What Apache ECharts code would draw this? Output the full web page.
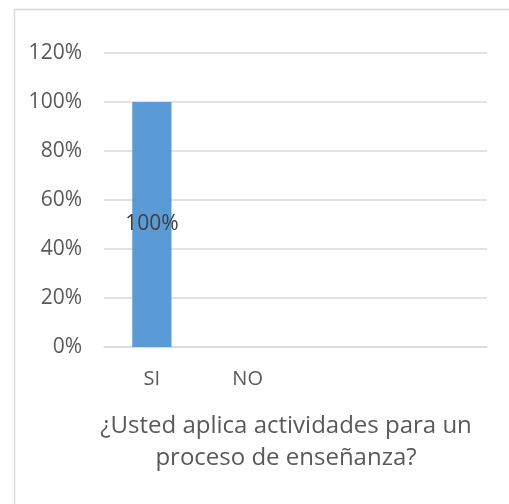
<!DOCTYPE html>
<html>
<head>
<meta charset="utf-8">
<script src="https://cdn.jsdelivr.net/npm/echarts@6/dist/echarts.min.js"></script>
<style>html,body{margin:0;padding:0;background:#fff;}#c{width:509px;height:504px;}</style>
</head>
<body>
<div id="c"></div>
<script>
var categories = ['SI', 'NO', '', ''];
var values = [1, 0, null, null];
var yTicks = { min: 0, max: 1.2, interval: 0.2 };
var titleText = '¿Usted aplica actividades para un\nproceso de enseñanza?';

var chart = echarts.init(document.getElementById('c'), null, { renderer: 'canvas' });
var font = 'Open Sans';
chart.setOption({
  animation: false,
  backgroundColor: '#fff',
  grid: { left: 104, right: 22, top: 53, bottom: 157 },
  graphic: [
    { type: 'rect', left: 12, top: 7, shape: { width: 620, height: 620 }, style: { fill: 'none', stroke: '#d9d9d9', lineWidth: 1.5 }, silent: true },
    { type: 'text', x: 286, y: 410, style: { text: titleText, fill: '#595959', font: '24px "Open Sans"', textAlign: 'center', lineHeight: 32 }, silent: true }
  ],
  xAxis: {
    type: 'category',
    data: categories,
    axisLine: { lineStyle: { color: '#d9d9d9', width: 1.5 } },
    axisTick: { show: false },
    axisLabel: { color: '#595959', fontFamily: font, fontSize: 20, margin: 22, interval: 0 }
  },
  yAxis: {
    type: 'value',
    min: yTicks.min, max: yTicks.max, interval: yTicks.interval,
    axisLine: { show: false },
    axisTick: { show: false },
    splitLine: { lineStyle: { color: '#d9d9d9', width: 1.5 } },
    axisLabel: { color: '#595959', fontFamily: font, fontSize: 21, margin: 22,
      formatter: function (v) { return Math.round(v * 100) + '%'; } }
  },
  series: [{
    type: 'bar',
    data: values,
    barWidth: '41%',
    itemStyle: { color: '#5b9bd5' },
    label: { show: true, position: 'inside', color: '#404040', fontFamily: font, fontSize: 21,
      formatter: function (p) { return p.value ? Math.round(p.value * 100) + '%' : ''; } }
  }]
});
</script>
</body>
</html>
